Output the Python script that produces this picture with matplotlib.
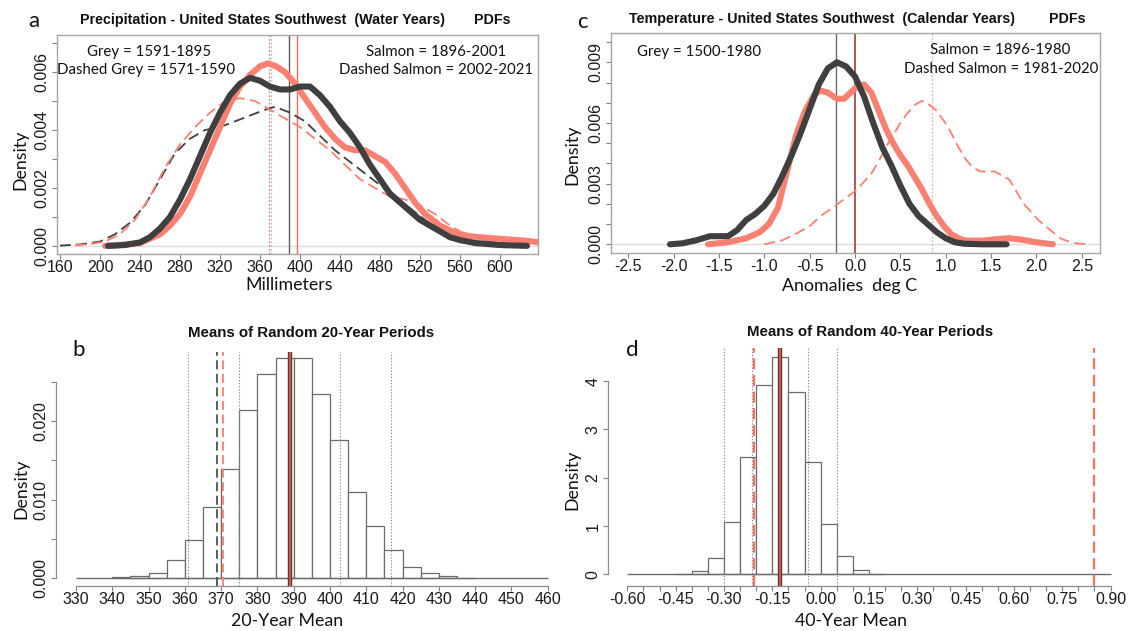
import matplotlib.pyplot as plt
import numpy as np
from matplotlib.ticker import FixedLocator, FuncFormatter

W, H = 1128, 631

SALMON = "#fa8072"
DARK = "#3f3f3f"
TEXT_FONT = ["Lato", "DejaVu Sans"]
R_FONT = ["Liberation Sans", "DejaVu Sans"]

# --- panel a: precipitation PDFs (millimeters, density) ---
precip_salmon_x = [205, 220, 240, 260, 270, 280, 290, 300, 310, 320, 330, 340, 350, 360, 368, 376,
                   385, 395, 405, 415, 425, 435, 445, 455, 465, 475, 485, 495, 505, 515, 525, 540,
                   555, 570, 590, 610, 625, 640]
precip_salmon_y = [0.0, 0.00003, 0.0001, 0.0004, 0.0007, 0.0011, 0.0017, 0.0025, 0.0033, 0.0041,
                   0.0049, 0.0055, 0.0059, 0.0062, 0.0063, 0.0062, 0.0060, 0.0056, 0.0051, 0.0046,
                   0.0041, 0.0037, 0.0034, 0.0033, 0.0033, 0.0031, 0.0029, 0.0025, 0.0020, 0.0015,
                   0.0011, 0.0007, 0.00045, 0.00033, 0.00027, 0.00022, 0.00018, 0.00012]
precip_grey_x = [208, 225, 240, 250, 260, 270, 280, 290, 300, 310, 320, 330, 340, 350, 360, 370, 380,
                 390, 400, 410, 420, 430, 440, 450, 460, 470, 480, 490, 500, 510, 520, 530, 540, 550,
                 560, 575, 600, 627]
precip_grey_y = [0.0, 0.00003, 0.00012, 0.0003, 0.0006, 0.0010, 0.0016, 0.0023, 0.0031, 0.0039,
                 0.0046, 0.0052, 0.0056, 0.0058, 0.0057, 0.0055, 0.0054, 0.0054, 0.0055, 0.0055,
                 0.0052, 0.0048, 0.0043, 0.0039, 0.0034, 0.0028, 0.0023, 0.0018, 0.0015, 0.0012,
                 0.0009, 0.0007, 0.0005, 0.0003, 0.0002, 0.0001, 0.00003, 0.0]
precip_dsalmon_x = [175, 190, 205, 220, 235, 250, 265, 280, 295, 310, 325, 340, 355, 370, 385, 400,
                    415, 430, 445, 460, 475, 490, 505, 520, 535, 550, 565, 580, 600, 625]
precip_dsalmon_y = [0.00002, 0.00006, 0.00015, 0.0004, 0.0009, 0.0017, 0.0027, 0.0035, 0.0041,
                    0.0046, 0.0050, 0.0051, 0.0050, 0.0047, 0.0044, 0.0041, 0.0037, 0.0033, 0.0028,
                    0.0023, 0.0020, 0.0017, 0.0016, 0.0014, 0.0011, 0.0007, 0.0004, 0.00025,
                    0.0001, 0.00003]
precip_dgrey_x = [160, 180, 200, 215, 230, 245, 260, 275, 290, 305, 320, 335, 350, 365, 375, 390, 405,
                  420, 435, 450, 465, 480, 495, 510, 525, 540, 555, 570, 590, 625]
precip_dgrey_y = [0.00001, 0.00005, 0.00015, 0.0004, 0.0008, 0.0014, 0.0023, 0.0032, 0.0037, 0.0040,
                  0.0041, 0.0043, 0.0045, 0.0047, 0.0048, 0.0046, 0.0043, 0.0038, 0.0033, 0.0029,
                  0.0025, 0.0021, 0.0017, 0.0013, 0.0009, 0.0005, 0.0003, 0.00015, 0.00006, 0.00001]
precip_mean_dgrey = 369
precip_mean_dsalmon = 370.7
precip_mean_grey = 389.3
precip_mean_salmon = 396.8

# --- panel c: temperature PDFs (anomalies deg C, density) ---
temp_grey_x = [-2.04, -1.9, -1.75, -1.6, -1.5, -1.4, -1.3, -1.2, -1.1, -1.0, -0.9, -0.8, -0.7, -0.6,
               -0.5, -0.4, -0.3, -0.2, -0.1, 0.0, 0.1, 0.2, 0.3, 0.4, 0.5, 0.6, 0.7, 0.8, 0.9, 1.0,
               1.1, 1.2, 1.4, 1.67]
temp_grey_y = [0.0, 0.00005, 0.0002, 0.0004, 0.0004, 0.0004, 0.0007, 0.0012, 0.0015, 0.0019, 0.0025,
               0.0034, 0.0044, 0.0055, 0.0067, 0.0079, 0.0087, 0.0090, 0.0088, 0.0083, 0.0073,
               0.0060, 0.0048, 0.0039, 0.0029, 0.0020, 0.0014, 0.0010, 0.0006, 0.0003, 0.0001,
               0.00003, 0.0, 0.0]
temp_salmon_x = [-1.62, -1.4, -1.2, -1.05, -0.95, -0.85, -0.75, -0.65, -0.55, -0.45, -0.38, -0.3,
                 -0.2, -0.12, -0.05, 0.02, 0.1, 0.18, 0.26, 0.34, 0.42, 0.5, 0.58, 0.66, 0.74, 0.82,
                 0.9, 0.98, 1.06, 1.14, 1.22, 1.4, 1.55, 1.7, 1.85, 2.0, 2.18]
temp_salmon_y = [0.0, 0.0001, 0.0003, 0.0006, 0.0010, 0.0018, 0.0036, 0.0054, 0.0066, 0.0074,
                 0.0076, 0.0075, 0.0072, 0.0072, 0.0075, 0.0078, 0.0079, 0.0075, 0.0066, 0.0057,
                 0.0050, 0.0044, 0.0039, 0.0033, 0.0027, 0.0020, 0.0014, 0.0009, 0.0005, 0.0003,
                 0.00018, 0.00018, 0.00025, 0.0003, 0.00022, 0.0001, 0.0]
temp_dsalmon_x = [-1.0, -0.8, -0.66, -0.5, -0.38, -0.25, -0.1, 0.02, 0.1, 0.18, 0.26, 0.34, 0.42,
                  0.5, 0.58, 0.66, 0.74, 0.82, 0.9, 0.98, 1.06, 1.14, 1.22, 1.3, 1.38, 1.46, 1.54,
                  1.62, 1.7, 1.78, 1.86, 1.94, 2.02, 2.1, 2.18, 2.26, 2.34, 2.45, 2.58]
temp_dsalmon_y = [0.0, 0.0002, 0.0005, 0.0009, 0.0014, 0.0018, 0.0023, 0.0027, 0.0031, 0.0035,
                  0.0041, 0.0048, 0.0054, 0.0060, 0.0065, 0.0069, 0.0071, 0.0069, 0.0066, 0.0061,
                  0.0055, 0.0048, 0.0042, 0.0038, 0.0036, 0.0036, 0.0036, 0.0034, 0.0032, 0.0026,
                  0.0020, 0.0016, 0.0012, 0.0009, 0.0006, 0.0003, 0.00016, 0.00004, 0.0]
temp_mean_grey = -0.21
temp_mean_salmon = 0.0
temp_mean_dsalmon = 0.85

# --- panel b: means of random 20-year periods ---
b_edges = [340, 345, 350, 355, 360, 365, 370, 375, 380, 385, 390, 395, 400, 405, 410, 415, 420,
           425, 430, 435, 440]
b_density = [0.0001, 0.0002, 0.0007, 0.0023, 0.0049, 0.0090, 0.0139, 0.0214, 0.0260, 0.0281,
             0.0280, 0.0235, 0.0176, 0.0109, 0.0066, 0.0036, 0.0014, 0.0007, 0.00026, 0.00004]
b_dotted = [361, 374.8, 402.8, 416.7]
b_dashed_grey = 368.8
b_dashed_salmon = 370.5
b_mean = 388.9

# --- panel d: means of random 40-year periods ---
d_edges = [-0.45, -0.40, -0.35, -0.30, -0.25, -0.20, -0.15, -0.10, -0.05, 0.00, 0.05, 0.10, 0.15, 0.20]
d_density = [0.014, 0.07, 0.34, 1.08, 2.44, 3.93, 4.49, 3.77, 2.32, 1.05, 0.375, 0.09, 0.014]
d_dotted = [-0.30, -0.214, -0.038, 0.05]
d_dashed_salmon = [-0.207, 0.849]
d_mean = -0.126


def fig_rect(left, top, right, bottom):
    return [left / W, 1 - bottom / H, (right - left) / W, (bottom - top) / H]


def ftext(fig, x, y, s, **kw):
    kw.setdefault("ha", "center")
    kw.setdefault("va", "center")
    fig.text(x / W, 1 - y / H, s, **kw)


def sparse_formatter(step, fmt):
    def f(v, pos):
        k = v / step
        if abs(k - round(k)) < 1e-6:
            return fmt % (0.0 if abs(v) < 1e-12 else v)
        return ""
    return FuncFormatter(f)


def r_ticks(ax, size=11.5):
    ax.tick_params(direction="out", length=3.5, width=0.8, color="#808080",
                   labelsize=size, labelcolor="#1a1a1a")
    ax.tick_params(axis="x", pad=1)
    ax.tick_params(axis="y", labelrotation=90, pad=2)
    for lab in ax.get_yticklabels() + ax.get_xticklabels():
        lab.set_family(R_FONT)
    for lab in ax.get_yticklabels():
        lab.set_va("center")


def style_box(ax):
    for sp in ax.spines.values():
        sp.set_color("#a6a6a6")
        sp.set_linewidth(1.0)


def style_hist(ax):
    ax.spines["top"].set_visible(False)
    ax.spines["right"].set_visible(False)
    for side in ("left", "bottom"):
        ax.spines[side].set_color("#8c8c8c")
        ax.spines[side].set_linewidth(0.9)


fig = plt.figure(figsize=(W / 100, H / 100), dpi=100)

# ---------------- panel a ----------------
ax = fig.add_axes(fig_rect(57, 35, 538, 254))
ax.set_xlim(157, 638)
ax.set_ylim(-0.00028, 0.00728)
ax.axhline(0, color="#dcdcdc", lw=1.0, zorder=1)
ax.axvline(precip_mean_dgrey, color="#9a9a9a", lw=0.9, ls=(0, (1.5, 1.5)), zorder=2)
ax.axvline(precip_mean_dsalmon, color="#f6a99f", lw=0.9, ls=(0, (1.5, 1.5)), zorder=2)
ax.axvline(precip_mean_grey, color="#5a5a5a", lw=1.0, zorder=2)
ax.axvline(precip_mean_salmon, color="#f26b5b", lw=1.0, zorder=2)
ax.plot(precip_dgrey_x, precip_dgrey_y, color=DARK, lw=1.3, ls=(0, (6, 3)), zorder=3)
ax.plot(precip_dsalmon_x, precip_dsalmon_y, color=SALMON, lw=1.3, ls=(0, (6, 3)), zorder=3)
ax.plot(precip_salmon_x, precip_salmon_y, color=SALMON, lw=4.4, solid_capstyle="round", zorder=4)
ax.plot(precip_grey_x, precip_grey_y, color=DARK, lw=4.4, solid_capstyle="round", zorder=5)
ax.xaxis.set_major_locator(FixedLocator(np.arange(160, 601, 40)))
ax.xaxis.set_major_formatter(FuncFormatter(lambda v, p: "%d" % round(v)))
ax.yaxis.set_major_locator(FixedLocator(np.round(np.arange(0, 0.0071, 0.001), 4)))
ax.yaxis.set_major_formatter(sparse_formatter(0.002, "%.3f"))
style_box(ax)
r_ticks(ax)

# ---------------- panel c ----------------
ax = fig.add_axes(fig_rect(611, 33, 1100, 253))
ax.set_xlim(-2.69, 2.70)
ax.set_ylim(-0.00043, 0.01045)
ax.axhline(0, color="#dcdcdc", lw=1.0, zorder=1)
ax.axvline(temp_mean_grey, color="#6a6a6a", lw=1.0, zorder=2)
ax.axvline(temp_mean_salmon, color="#9e2a22", lw=1.1, zorder=2)
ax.axvline(temp_mean_dsalmon, color="#f6a99f", lw=0.9, ls=(0, (1.5, 1.5)), zorder=2)
ax.plot(temp_dsalmon_x, temp_dsalmon_y, color=SALMON, lw=1.3, ls=(0, (6, 3)), zorder=3)
ax.plot(temp_salmon_x, temp_salmon_y, color=SALMON, lw=4.4, solid_capstyle="round", zorder=4)
ax.plot(temp_grey_x, temp_grey_y, color=DARK, lw=4.4, solid_capstyle="round", zorder=5)
ax.xaxis.set_major_locator(FixedLocator(np.round(np.arange(-2.5, 2.51, 0.5), 2)))
ax.xaxis.set_major_formatter(FuncFormatter(lambda v, p: "%.1f" % (0.0 if abs(v) < 1e-9 else v)))
ax.yaxis.set_major_locator(FixedLocator(np.round(np.arange(0, 0.0101, 0.001), 4)))
ax.yaxis.set_major_formatter(sparse_formatter(0.003, "%.3f"))
style_box(ax)
r_ticks(ax)

# ---------------- panel b ----------------
ax = fig.add_axes(fig_rect(56, 351.7, 567, 586))
ax.set_xlim(324.5, 465.3)
ax.set_ylim(-0.00102, 0.02885)
ax.bar(b_edges[:-1], b_density, width=np.diff(b_edges), align="edge",
       facecolor="white", edgecolor="#6b6b6b", linewidth=0.9, zorder=2)
ax.hlines(0, 330, 460, color="#6b6b6b", lw=1.0, zorder=3)
for v in b_dotted:
    ax.axvline(v, color="#8a8a8a", lw=0.8, ls=(0, (1.2, 1.6)), zorder=4)
ax.axvline(b_dashed_grey, color="#505050", lw=1.3, ls=(0, (5, 2.5)), zorder=5)
ax.axvline(b_dashed_salmon, color=SALMON, lw=1.3, ls=(0, (5, 2.5)), zorder=5)
ax.axvline(b_mean, color="#444444", lw=3.2, zorder=6)
ax.axvline(b_mean, color="#e8503f", lw=1.4, zorder=7)
ax.xaxis.set_major_locator(FixedLocator(np.arange(330, 461, 10)))
ax.xaxis.set_major_formatter(FuncFormatter(lambda v, p: "%d" % round(v)))
ax.yaxis.set_major_locator(FixedLocator(np.round(np.arange(0, 0.0251, 0.005), 4)))
ax.yaxis.set_major_formatter(sparse_formatter(0.010, "%.3f"))
ax.spines["bottom"].set_bounds(330, 460)
ax.spines["left"].set_bounds(0, 0.025)
style_hist(ax)
r_ticks(ax)

# ---------------- panel d ----------------
ax = fig.add_axes(fig_rect(608, 348.3, 1128, 586))
ax.set_xlim(-0.66, 0.954)
ax.set_ylim(-0.24, 4.68)
ax.bar(d_edges[:-1], d_density, width=np.diff(d_edges), align="edge",
       facecolor="white", edgecolor="#6b6b6b", linewidth=0.9, zorder=2)
ax.hlines(0, -0.6, 0.9, color="#6b6b6b", lw=1.0, zorder=3)
for v in d_dotted:
    ax.axvline(v, color="#8a8a8a", lw=0.8, ls=(0, (1.2, 1.6)), zorder=4)
for v in d_dashed_salmon:
    ax.axvline(v, color="#f07366", lw=1.6, ls=(0, (5, 2.5)), zorder=5)
ax.axvline(d_mean, color="#444444", lw=3.2, zorder=6)
ax.axvline(d_mean, color="#e8503f", lw=1.4, zorder=7)
ax.xaxis.set_major_locator(FixedLocator(np.round(np.arange(-0.6, 0.901, 0.05), 2)))
ax.xaxis.set_major_formatter(sparse_formatter(0.15, "%.2f"))
ax.yaxis.set_major_locator(FixedLocator([0, 1, 2, 3, 4]))
ax.yaxis.set_major_formatter(FuncFormatter(lambda v, p: "%d" % round(v)))
ax.spines["bottom"].set_bounds(-0.6, 0.9)
ax.spines["left"].set_bounds(0, 4)
style_hist(ax)
r_ticks(ax)

# ---------------- titles and labels ----------------
title_kw = dict(family=R_FONT, weight="bold", color="#111111")
ftext(fig, 263, 20, "Precipitation - United States Southwest  (Water Years)", fontsize=10.3, **title_kw)
ftext(fig, 492, 20, "PDFs", fontsize=10.3, **title_kw)
ftext(fig, 822, 19, "Temperature - United States Southwest  (Calendar Years)", fontsize=10.3, **title_kw)
ftext(fig, 1067, 19, "PDFs", fontsize=10.3, **title_kw)
ftext(fig, 311, 333, "Means of Random 20-Year Periods", fontsize=10.8, **title_kw)
ftext(fig, 870, 332, "Means of Random 40-Year Periods", fontsize=10.8, **title_kw)

note_kw = dict(family=TEXT_FONT, fontsize=10.8, color="#111111")
ftext(fig, 149, 52, "Grey = 1591-1895", **note_kw)
ftext(fig, 146, 70, "Dashed Grey = 1571-1590", **note_kw)
ftext(fig, 436, 52, "Salmon = 1896-2001", **note_kw)
ftext(fig, 436, 70, "Dashed Salmon = 2002-2021", **note_kw)
ftext(fig, 699, 52, "Grey = 1500-1980", **note_kw)
ftext(fig, 1000, 50, "Salmon = 1896-1980", **note_kw)
ftext(fig, 1001, 69, "Dashed Salmon = 1981-2020", **note_kw)

label_kw = dict(family=TEXT_FONT, fontsize=12.8, color="#111111")
ftext(fig, 289, 285, "Millimeters", **label_kw)
ftext(fig, 20, 160, "Density", rotation=90, **label_kw)
ftext(fig, 850, 286, "Anomalies  deg C", **label_kw)
ftext(fig, 572, 155, "Density", rotation=90, **label_kw)
ftext(fig, 287, 621, "20-Year Mean", **label_kw)
ftext(fig, 21, 489, "Density", rotation=90, **label_kw)
ftext(fig, 851, 621, "40-Year Mean", **label_kw)
ftext(fig, 572, 480, "Density", rotation=90, **label_kw)

letter_kw = dict(family=TEXT_FONT, fontsize=16, color="#111111")
ftext(fig, 34, 21, "a", **letter_kw)
ftext(fig, 582, 22, "c", **letter_kw)
ftext(fig, 79, 350, "b", **letter_kw)
ftext(fig, 632, 350, "d", **letter_kw)

fig.savefig("out.png", dpi=100)
